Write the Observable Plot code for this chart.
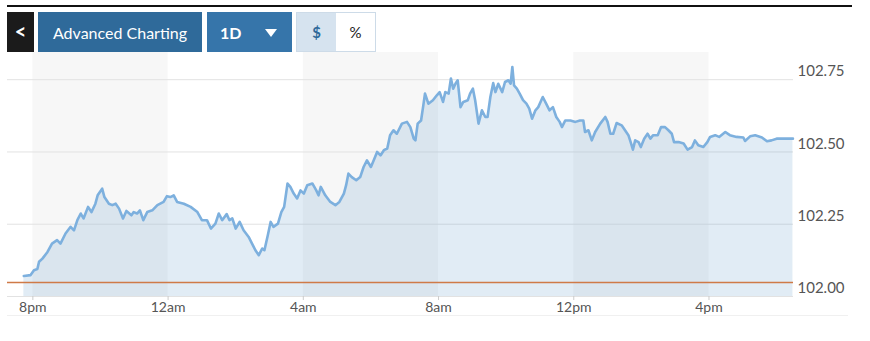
<!DOCTYPE html>
<html>
<head>
<meta charset="utf-8">
<script src="https://cdn.jsdelivr.net/npm/d3@7"></script>
<script src="https://cdn.jsdelivr.net/npm/@observablehq/plot@0.6"></script>
<style>
  html, body { margin: 0; padding: 0; background: #fff; }
  #wrap { position: relative; width: 870px; height: 341px; font-family: Lato, "Open Sans", sans-serif; overflow: hidden; }
  .topline { position: absolute; left: 7px; top: 5px; width: 845px; height: 2px; background: #111; }
  .btn { position: absolute; top: 12px; height: 40px; color: #fff; display: flex; align-items: center; justify-content: center; box-sizing: border-box; }
  #back { left: 7px; width: 27px; background: #1b1b1b; font-size: 20px; font-weight: 700; padding-bottom: 2px; }
  #adv { left: 38px; width: 164px; background: #2f6a9a; font-size: 16px; }
  #range { left: 207px; width: 85px; background: #3675aa; font-size: 16px; font-weight: 700; justify-content: flex-start; padding-left: 13px; }
  #range .tri { position: absolute; left: 58px; top: 17px; width: 0; height: 0; border-left: 6.5px solid transparent; border-right: 6.5px solid transparent; border-top: 8px solid #fff; }
  #toggle { position: absolute; left: 296px; top: 12px; width: 80px; height: 40px; border: 1px solid #cddbe8; box-sizing: border-box; display: flex; }
  #toggle div { width: 50%; display: flex; align-items: center; justify-content: center; font-size: 15px; }
  #dollar { background: #d6e3ef; color: #2f6a9a; font-weight: 700; }
  #pct { background: #fff; color: #222; }
  #chart { position: absolute; left: 0; top: 52px; }
  .foot { position: absolute; left: 7px; top: 315px; width: 841px; height: 1px; background: #f0f0f0; }
</style>
</head>
<body>
<div id="wrap">
  <div class="topline"></div>
  <div class="btn" id="back">&lt;</div>
  <div class="btn" id="adv">Advanced Charting</div>
  <div class="btn" id="range">1D<span class="tri"></span></div>
  <div id="toggle"><div id="dollar">$</div><div id="pct">%</div></div>
  <div id="chart"></div>
  <div class="foot"></div>
</div>
<script>
// Minutes after 8pm (start of session day) and price values
const minutesFrom8pm = [
  -16,-4,2,8,11,17,26,34,43,49,58,67,73,79,85,90,98,104,111,115,123,127,135,141,147,153,160,166,175,179,185,190,196,203,212,221,232,238,244,250,256,268,280,292,
  300,309,316,324,330,336,344,349,354,360,367,374,383,389,395,401,407,411,417,422,427,435,441,446,452,457,463,469,475,481,487,496,503,507,511,519,528,537,544,552,556,560,566,574,581,587,593,600,605,611,617,
  623,629,634,640,646,655,664,670,676,679,683,689,693,696,702,710,717,722,728,732,738,742,746,750,754,759,764,772,776,781,785,791,797,803,807,812,817,821,826,833,838,844,848,851,854,859,864,870,876,881,886,892,897,905,911,917,923,929,935,939,945,954,963,971,
  977,980,986,992,998,1007,1016,1020,1025,1030,1036,1045,1051,1057,1061,1065,1069,1075,1079,1085,1091,1096,1101,1109,1115,1122,1128,1134,1138,1146,1155,1162,1170,1175,1181,1190,1197,1202,1211,1218,1229,1237,1249,1261,1264,1273,1282,1294,1303,1311,1320,1332,1349
];
const price = [
  102.071,102.074,102.091,102.095,102.120,102.131,102.154,102.183,102.195,102.183,102.218,102.241,102.229,102.264,102.287,102.270,102.310,102.292,102.321,102.350,102.373,102.344,102.321,102.316,102.321,102.304,102.270,102.296,102.281,102.292,102.287,102.298,102.264,102.292,102.298,102.316,102.327,102.347,102.344,102.350,102.327,102.321,102.310,102.292,
  102.264,102.264,102.235,102.252,102.287,102.264,102.285,102.264,102.270,102.235,102.258,102.229,102.206,102.183,102.160,102.143,102.166,102.160,102.212,102.258,102.241,102.252,102.292,102.310,102.391,102.379,102.356,102.339,102.367,102.356,102.385,102.391,102.367,102.350,102.379,102.350,102.327,102.316,102.327,102.356,102.385,102.425,102.413,102.402,102.413,102.448,102.471,102.448,102.471,102.500,102.488,
  102.506,102.512,102.558,102.575,102.563,102.598,102.604,102.586,102.546,102.540,102.598,102.609,102.661,102.702,102.667,102.679,102.696,102.707,102.673,102.707,102.702,102.754,102.719,102.736,102.748,102.655,102.673,102.679,102.702,102.719,102.679,102.598,102.644,102.621,102.621,102.690,102.738,102.707,102.736,102.707,102.742,102.748,102.736,102.794,102.730,102.719,102.702,102.679,102.667,102.650,102.615,102.644,102.655,102.690,102.667,102.644,102.655,102.621,102.604,102.586,102.609,102.609,102.604,102.609,
  102.609,102.569,102.575,102.540,102.569,102.598,102.621,102.604,102.563,102.563,102.600,102.592,102.575,102.558,102.534,102.508,102.540,102.534,102.517,102.546,102.563,102.546,102.558,102.558,102.586,102.586,102.575,102.563,102.534,102.534,102.529,102.508,102.517,102.540,102.523,102.517,102.534,102.552,102.558,102.552,102.569,102.558,102.552,102.550,102.538,102.554,102.558,102.550,102.537,102.540,102.546,102.546,102.546
];
const previousClose = 102.048;
const tickMinutes = [0, 240, 480, 720, 960, 1200];
const tickLabels = ["8pm", "12am", "4am", "8am", "12pm", "4pm"];
const shadedStartMinutes = [0, 480, 960];
const shadedLengthMinutes = 240;
const yTicks = [102.00, 102.25, 102.50, 102.75];
const xDomainMinutes = [-45, 1350];
const yDomain = [102.0, 102.844];

const base = new Date(2024, 0, 1, 20, 0, 0);
const toDate = m => new Date(base.getTime() + m * 60000);

const data = minutesFrom8pm.map((m, i) => ({t: toDate(m), v: price[i]}));
const bands = shadedStartMinutes.map(m => ({x1: toDate(m), x2: toDate(m + shadedLengthMinutes)}));
const tickDates = tickMinutes.map(toDate);
const labelByTime = new Map(tickDates.map((d, i) => [+d, tickLabels[i]]));

const chart = Plot.plot({
  width: 870,
  height: 289,
  marginTop: 0,
  marginBottom: 45,
  marginLeft: 7,
  marginRight: 77,
  style: {fontFamily: "Lato, 'Open Sans', sans-serif", background: "transparent", overflow: "visible"},
  x: {type: "time", domain: xDomainMinutes.map(toDate)},
  y: {domain: yDomain},
  marks: [
    Plot.rect(bands, {x1: "x1", x2: "x2", fill: "#f7f7f7"}),
    Plot.gridY(yTicks, {stroke: "#e2e2e2", strokeOpacity: 1, strokeWidth: 1}),
    Plot.areaY(data, {x: "t", y1: 102, y2: "v", fill: "#6a9fcf", fillOpacity: 0.2}),
    Plot.ruleY([previousClose], {stroke: "#cf7a47", strokeWidth: 1.5}),
    Plot.lineY(data, {x: "t", y: "v", stroke: "#7db0de", strokeWidth: 2.6, strokeLinejoin: "round"}),
    Plot.axisX(tickDates, {tickSize: 4, tickPadding: 2, stroke: "#ccc", fill: "#555", fontSize: 14, tickFormat: d => labelByTime.get(+d), label: null}),
    Plot.axisY(yTicks, {anchor: "right", tickSize: 0, tickPadding: 4, dy: -8, fill: "#555", fontSize: 15, tickFormat: d3.format(".2f"), label: null})
  ]
});
document.getElementById("chart").appendChild(chart);
</script>
</body>
</html>
